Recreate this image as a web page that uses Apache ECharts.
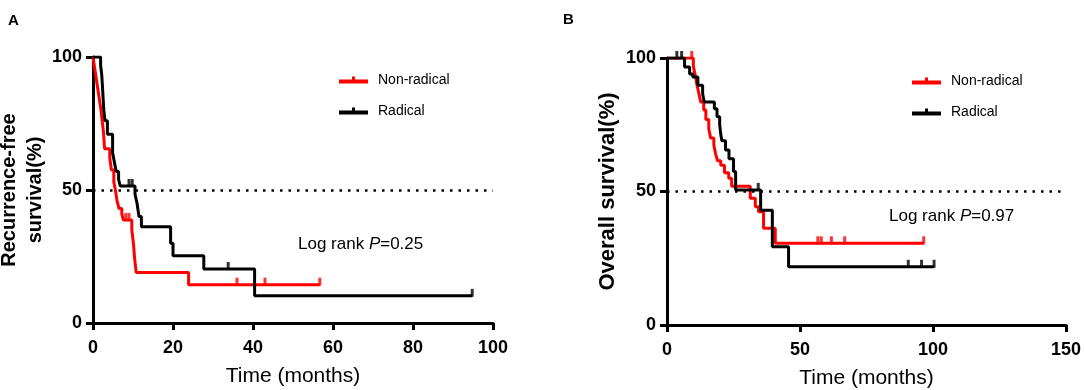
<!DOCTYPE html>
<html>
<head>
<meta charset="utf-8">
<script src="https://cdn.jsdelivr.net/npm/echarts@6/dist/echarts.min.js"></script>
<style>
html,body{margin:0;padding:0;background:#fff;}
#chart{width:1084px;height:390px;}
</style>
</head>
<body>
<div id="chart"></div>
<script>
// Panel A: recurrence-free survival
const rfsNonRadT = [0,0.4,0.8,1.1,1.5,1.9,2.3,2.6,2.9,4.2,4.6,5.2,5.6,6.0,6.5,7.2,7.6,9.7,10.1,10.4,10.8,23.9,56.7];
const rfsNonRadS = [100,96,92,89,85,81,76,72,65.5,62,57.5,53,50,46,43,41,38.7,35,30,24.4,19,14.4,14.4];
const rfsNonRadCens = [8.2,9.0,36,43,56.7];
const rfsRadT = [0,1.9,2.2,2.4,2.7,3.0,3.6,4.9,5.4,5.8,6.4,6.8,10.5,11.0,11.5,12.1,19.4,20.0,27.7,40.4,94.8];
const rfsRadS = [100,97,93,88,80,76,71,64,60,57,54,51.5,48.5,45,40,36.2,30,25.3,20.3,10.2,10.2];
const rfsRadCens = [9.0,9.8,33.8,94.8];
// Panel B: overall survival
const osNonRadT = [0,9.9,10.6,11.3,12.0,12.7,13.8,14.6,15.7,16.4,17.6,18.3,19.0,20.2,21.6,23.2,24.3,31.3,33.2,34.4,36.3,40.7,96.5];
const osNonRadS = [100,97,93.5,89.8,86.6,83.5,80.5,77,73.5,70,67.4,64,61.5,59.8,57,55,52,47.5,44.3,42.4,36.2,30.6,30.6];
const osNonRadCens = [9.3,56.7,58,61.8,66.8,96.5];
const osRadT = [0,6.6,8.5,9.7,11.6,13.4,14.0,17.8,18.8,19.8,20.2,20.6,22.0,23.3,25.0,25.8,35.2,39.6,45.7,100.4];
const osRadS = [100,96.6,94,92.9,89.8,86.6,83.5,81,78,75,71.5,69,65.5,62.3,57.5,50.6,43,29.3,21.8,21.8];
const osRadCens = [3.7,5.5,34.3,90.7,95.7,100.4];
// Axis ticks
const xTicksA = [0,20,40,60,80,100];
const xTicksB = [0,50,100,150];
const yTicks = [0,50,100];
const seriesNames = ['Non-radical','Radical'];
const pValueA = '0.25';
const pValueB = '0.97';

const RED = '#ff0000', BLACK = '#000000';
const FONT = '"Liberation Sans", Arial, sans-serif';

function pairs(T,S){ return T.map((t,i)=>[t,S[i]]); }
function survAt(T,S,t){ let v=S[0]; for(let i=0;i<T.length;i++){ if(T[i]<=t) v=S[i]; } return v; }
function censPts(T,S,C){ return C.map(t=>[t, survAt(T,S,t)]); }

function axisX(gridIndex, ticks){
  return {
    type:'value', gridIndex, min:ticks[0], max:ticks[ticks.length-1], interval:ticks[1]-ticks[0],
    name:'Time (months)', nameLocation:'middle', nameGap:43,
    nameTextStyle:{fontFamily:FONT, fontSize:21, color:'#000'},
    axisLine:{show:true, lineStyle:{color:'#000', width:3}},
    axisTick:{show:true, inside:false, length:7, lineStyle:{color:'#000', width:3}},
    axisLabel:{fontFamily:FONT, fontSize:18, fontWeight:'bold', color:'#000', margin:16},
    splitLine:{show:false}
  };
}
function axisY(gridIndex, name, nameGap, fs){
  return {
    type:'value', gridIndex, min:yTicks[0], max:yTicks[yTicks.length-1], interval:yTicks[1]-yTicks[0],
    name, nameLocation:'middle', nameGap, nameRotate:90,
    nameTextStyle:{fontFamily:FONT, fontSize:fs, fontWeight:'bold', color:'#000', lineHeight:26},
    axisLine:{show:true, lineStyle:{color:'#000', width:3}},
    axisTick:{show:true, inside:false, length:7, lineStyle:{color:'#000', width:3}},
    axisLabel:{fontFamily:FONT, fontSize:18, fontWeight:'bold', color:'#000', margin:11},
    splitLine:{show:false}
  };
}
function kmLine(name, T, S, idx, color, refMax){
  const s = {
    name, type:'line', step:'end', xAxisIndex:idx, yAxisIndex:idx,
    data:pairs(T,S), showSymbol:false, symbol:'none', color,
    lineStyle:{color, width:3}, itemStyle:{color}, z:3, animation:false
  };
  if(refMax!==undefined){
    s.markLine = {
      silent:true, symbol:'none', label:{show:false},
      lineStyle:{color:'#000', width:2.5, type:[2.5,6]},
      data:[[{coord:[0,50]},{coord:[refMax,50]}]], animation:false
    };
  }
  return s;
}
function censors(T,S,C,idx,color){
  return {
    type:'scatter', xAxisIndex:idx, yAxisIndex:idx, data:censPts(T,S,C),
    symbol:'rect', symbolSize:[3,8], symbolOffset:[0,-3], itemStyle:{color},
    z:4, animation:false, silent:true
  };
}
const legendIcon = 'path://M0,3 L29,3 L29,7 L0,7 Z M13,0 L16,0 L16,3 L13,3 Z';
function legendAt(left, top){
  return {
    data:seriesNames, orient:'vertical', left, top, icon:legendIcon,
    itemWidth:29, itemHeight:7, itemGap:17, selectedMode:false,
    textStyle:{fontFamily:FONT, fontSize:14, color:'#000', padding:[0,0,0,5]}
  };
}

const chart = echarts.init(document.getElementById('chart'), null, {renderer:'canvas'});
chart.setOption({
  backgroundColor:'#fff',
  animation:false,
  grid:[
    {left:93, top:57, width:400, height:266, containLabel:false, outerBoundsMode:'none'},
    {left:667, top:58, width:399, height:267, containLabel:false, outerBoundsMode:'none'}
  ],
  xAxis:[axisX(0,xTicksA), axisX(1,xTicksB)],
  yAxis:[axisY(0,'Recurrence-free\nsurvival(%)',42,20), axisY(1,'Overall survival(%)',46,22)],
  legend:[legendAt(334,68), legendAt(907,69)],
  series:[
    kmLine(seriesNames[0], rfsNonRadT, rfsNonRadS, 0, RED, 100),
    kmLine(seriesNames[1], rfsRadT, rfsRadS, 0, BLACK),
    censors(rfsNonRadT, rfsNonRadS, rfsNonRadCens, 0, RED),
    censors(rfsRadT, rfsRadS, rfsRadCens, 0, BLACK),
    kmLine(seriesNames[0], osNonRadT, osNonRadS, 1, RED, 150),
    kmLine(seriesNames[1], osRadT, osRadS, 1, BLACK),
    censors(osNonRadT, osNonRadS, osNonRadCens, 1, RED),
    censors(osRadT, osRadS, osRadCens, 1, BLACK)
  ],
  graphic:[
    {type:'text', left:8, top:13, style:{text:'A', font:'bold 15px '+FONT, fill:'#000'}},
    {type:'text', left:563, top:12, style:{text:'B', font:'bold 15px '+FONT, fill:'#000'}},
    {type:'text', left:298, top:236, style:{
      text:'{n|Log rank }{i|P}{n|=' + pValueA + '}',
      rich:{n:{fontFamily:FONT, fontSize:17, fill:'#000'}, i:{fontFamily:FONT, fontSize:17, fontStyle:'italic', fill:'#000'}}
    }},
    {type:'text', left:889, top:208, style:{
      text:'{n|Log rank }{i|P}{n|=' + pValueB + '}',
      rich:{n:{fontFamily:FONT, fontSize:17, fill:'#000'}, i:{fontFamily:FONT, fontSize:17, fontStyle:'italic', fill:'#000'}}
    }}
  ]
});
</script>
</body>
</html>
